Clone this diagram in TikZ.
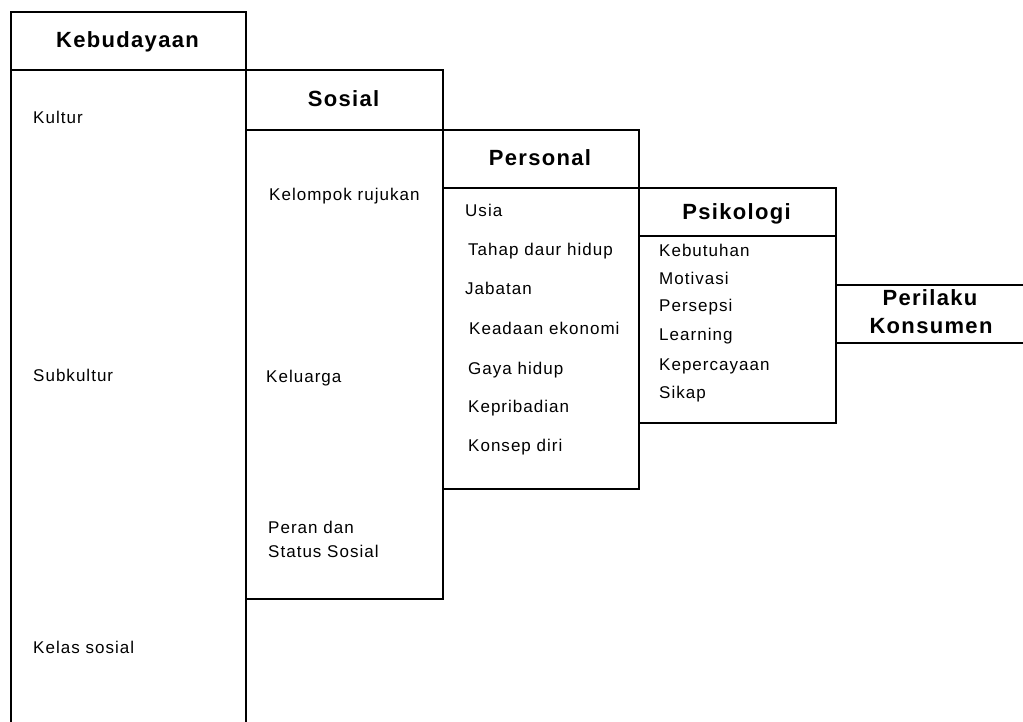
\documentclass[tikz,border=0pt]{standalone}
\usepackage{fontspec}
\setmainfont{Liberation Sans}
\newfontfamily\bodyfont[LetterSpace=6]{Liberation Sans}
\newfontfamily\headfont[LetterSpace=6]{Liberation Sans}
\begin{document}
\begin{tikzpicture}[x=1pt,y=-1pt,
  frame/.style={line width=2pt},
  item/.style={anchor=base west, inner sep=0pt, font=\bodyfont\fontsize{17}{20}\selectfont},
  head/.style={anchor=base, inner sep=0pt, font=\headfont\bfseries\fontsize{22}{26}\selectfont}]
\useasboundingbox (0,0) rectangle (1023,721);

% column frames, each with its title strip
\draw[frame] (11,730) -- (11,12) -- (246,12) -- (246,730);
\draw[frame] (11,70) -- (246,70);
\draw[frame] (246,70) rectangle (443,599);
\draw[frame] (246,130) -- (443,130);
\draw[frame] (443,130) rectangle (639,489);
\draw[frame] (443,188) -- (639,188);
\draw[frame] (639,188) rectangle (836,423);
\draw[frame] (639,236) -- (836,236);
\draw[frame] (836,285) -- (1030,285);
\draw[frame] (836,343) -- (1030,343);

% titles
\node[head] (kebudayaan) at (127.5,47) {Kebudayaan};
\node[head] (sosial) at (343.5,106) {Sosial};
\node[head] (personal) at (540,165) {Personal};
\node[head] (psikologi) at (736.5,219) {Psikologi};
\node[head] (perilaku) at (930,305) {Perilaku};
\node[head] (konsumen) at (931,333) {Konsumen};

% Kebudayaan
\node[item] (kultur) at (33,123) {Kultur};
\node[item] (subkultur) at (33,381) {Subkultur};
\node[item] (kelas) at (33,653) {Kelas sosial};

% Sosial
\node[item] (kelompok) at (269,200) {Kelompok rujukan};
\node[item] (keluarga) at (266,382) {Keluarga};
\node[item] (peran) at (268,533) {Peran dan};
\node[item] (status) at (268,557) {Status Sosial};

% Personal
\node[item] (usia) at (465,216) {Usia};
\node[item] (tahap) at (468,255) {Tahap daur hidup};
\node[item] (jabatan) at (465,294) {Jabatan};
\node[item] (keadaan) at (469,334) {Keadaan ekonomi};
\node[item] (gaya) at (468,374) {Gaya hidup};
\node[item] (kepribadian) at (468,412) {Kepribadian};
\node[item] (konsep) at (468,451) {Konsep diri};

% Psikologi
\node[item] (kebutuhan) at (659,256) {Kebutuhan};
\node[item] (motivasi) at (659,284) {Motivasi};
\node[item] (persepsi) at (659,311) {Persepsi};
\node[item] (learning) at (659,340) {Learning};
\node[item] (kepercayaan) at (659,370) {Kepercayaan};
\node[item] (sikap) at (659,398) {Sikap};
\end{tikzpicture}
\end{document}
